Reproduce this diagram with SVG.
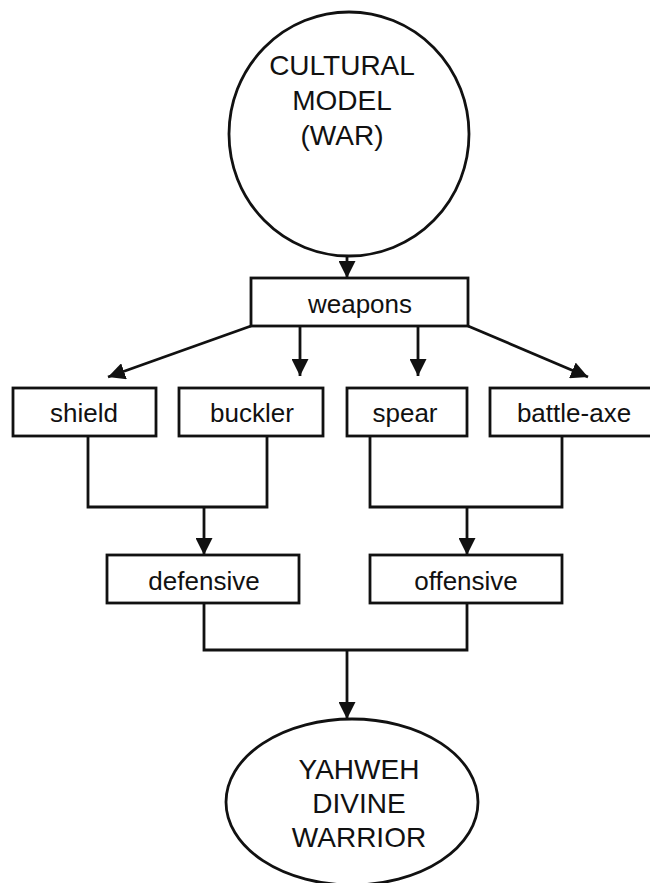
<svg xmlns="http://www.w3.org/2000/svg" width="650" height="883" viewBox="0 0 650 883">
  <style>
    .shape { fill: #ffffff; stroke: #111111; stroke-width: 2.8; }
    .link { fill: none; stroke: #111111; stroke-width: 2.8; }
    .label { font-family: "Liberation Sans", Arial, sans-serif; font-size: 26px; fill: #111111; text-anchor: middle; }
    .big { font-family: "Liberation Sans", Arial, sans-serif; font-size: 28px; fill: #111111; text-anchor: middle; }
  </style>
  <defs>
    <marker id="arrow" viewBox="0 0 17 17" refX="17" refY="8.5" markerWidth="17" markerHeight="17" markerUnits="userSpaceOnUse" orient="auto">
      <path d="M0,0 L17,8.5 L0,17 z" fill="#111111"/>
    </marker>
  </defs>
  <rect width="650" height="883" fill="#ffffff"/>

  <!-- connectors -->
  <g id="connectors">
    <path class="link" d="M347,256 V278" marker-end="url(#arrow)"/>
    <path class="link" d="M251,326 L108,377" marker-end="url(#arrow)"/>
    <path class="link" d="M300,326 V376" marker-end="url(#arrow)"/>
    <path class="link" d="M418,326 V376" marker-end="url(#arrow)"/>
    <path class="link" d="M468,326 L588,377" marker-end="url(#arrow)"/>
    <path class="link" d="M88,436 V507 H267 V436"/>
    <path class="link" d="M204,507 V555" marker-end="url(#arrow)"/>
    <path class="link" d="M370,436 V507 H562 V436"/>
    <path class="link" d="M467,507 V555" marker-end="url(#arrow)"/>
    <path class="link" d="M204,603 V650 H467 V603"/>
    <path class="link" d="M347,650 V719" marker-end="url(#arrow)"/>
  </g>

  <g id="cultural-model">
    <ellipse class="shape" cx="349" cy="134" rx="120" ry="122"/>
    <text class="big" x="342" y="75">CULTURAL</text>
    <text class="big" x="342" y="110">MODEL</text>
    <text class="big" x="342" y="145">(WAR)</text>
  </g>

  <g id="weapons">
    <rect class="shape" x="251" y="278" width="217" height="48"/>
    <text class="label" x="360" y="313">weapons</text>
  </g>

  <g id="shield">
    <rect class="shape" x="13" y="388" width="143" height="48"/>
    <text class="label" x="84" y="422">shield</text>
  </g>

  <g id="buckler">
    <rect class="shape" x="179" y="388" width="144" height="48"/>
    <text class="label" x="252" y="422">buckler</text>
  </g>

  <g id="spear">
    <rect class="shape" x="347" y="388" width="120" height="48"/>
    <text class="label" x="405" y="422">spear</text>
  </g>

  <g id="battle-axe">
    <rect class="shape" x="490" y="388" width="168" height="48"/>
    <text class="label" x="574" y="422">battle-axe</text>
  </g>

  <g id="defensive">
    <rect class="shape" x="107" y="555" width="192" height="48"/>
    <text class="label" x="204" y="590">defensive</text>
  </g>

  <g id="offensive">
    <rect class="shape" x="370" y="555" width="192" height="48"/>
    <text class="label" x="466" y="590">offensive</text>
  </g>

  <g id="divine-warrior">
    <ellipse class="shape" cx="352" cy="802" rx="126" ry="83"/>
    <text class="big" x="359" y="779">YAHWEH</text>
    <text class="big" x="359" y="813">DIVINE</text>
    <text class="big" x="359" y="847">WARRIOR</text>
  </g>
</svg>
